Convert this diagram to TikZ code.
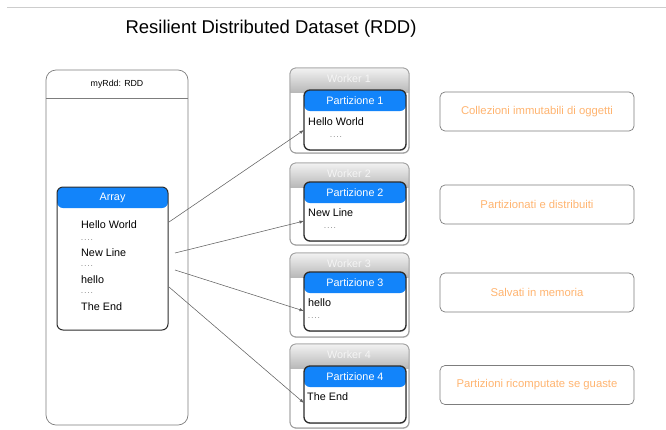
\documentclass[tikz,border=0pt]{standalone}
\usepackage{fontspec}
\setmainfont{Liberation Sans}
\usetikzlibrary{arrows.meta,shadows}

\definecolor{hdrblue}{RGB}{18,132,250}
\definecolor{boxline}{RGB}{125,125,125}
\definecolor{darkline}{RGB}{45,45,45}
\definecolor{softorange}{RGB}{255,180,112}
\definecolor{rulegray}{RGB}{205,205,205}
\definecolor{wkline}{RGB}{160,160,160}
\definecolor{wktop}{RGB}{242,242,242}
\definecolor{wkbottom}{RGB}{185,185,185}

\newcommand{\smalldots}{.\kern1.3pt.\kern1.3pt.\kern1.3pt.}

% gradient header band inside a worker node
\newcommand{\workerheader}[1]{%
  \begin{scope}
    \clip[rounded corners=6pt] (#1.north west) rectangle (#1.south east);
    \shade[top color=wktop, bottom color=wkbottom] (#1.north west) rectangle ([yshift=-24pt]#1.north east);
  \end{scope}
  \draw[wkline, line width=0.8pt, rounded corners=6pt] (#1.north west) rectangle (#1.south east);
}

\tikzset{
  rddbox/.style={draw=boxline, line width=0.7pt, rounded corners=10pt, outer sep=0pt, inner sep=0pt},
  listbox/.style={draw=darkline, line width=1pt, rounded corners=6pt, fill=white, outer sep=0pt, inner sep=0pt,
    path picture={\fill[hdrblue] (path picture bounding box.north west) rectangle ([yshift=-21pt]path picture bounding box.north east);}},
  workerbox/.style={draw=wkline, line width=0.8pt, rounded corners=6pt, fill=white, outer sep=0pt, inner sep=0pt,
    minimum width=119pt, anchor=north west,
    drop shadow={shadow xshift=0.6pt, shadow yshift=-0.8pt, opacity=0.35}},
  partbox/.style={listbox, line width=1.3pt, minimum width=102pt, anchor=north west,
    drop shadow={shadow xshift=0.6pt, shadow yshift=-0.9pt, opacity=0.4}},
  notebox/.style={draw=boxline, line width=0.7pt, rounded corners=5pt, minimum width=194pt, minimum height=39pt,
    text=softorange, font=\fontsize{11.3}{13}\selectfont},
  hdrtext/.style={text=white, font=\fontsize{10.8}{13}\selectfont},
  wktext/.style={text=white!96!black, font=\fontsize{10.8}{13}\selectfont},
  itemtext/.style={anchor=west, inner sep=0pt, font=\fontsize{10.8}{13}\selectfont},
  dotstext/.style={anchor=west, inner sep=0pt, font=\fontsize{7}{8}\selectfont, text=black!70},
  link/.style={draw=black!62, line width=0.55pt, -{Latex[length=4.5pt,width=3.2pt]}}
}

\begin{document}
\begin{tikzpicture}[x=1pt,y=-1pt]
\useasboundingbox (0,0) rectangle (666,429);

% rule and title
\coordinate (ruleL) at (7,7);
\coordinate (ruleR) at (666,7);
\draw[rulegray, line width=0.9pt] (ruleL) -- (ruleR);
\node[font=\fontsize{18.5}{22}\selectfont] (title) at (271,29) {Resilient Distributed Dataset (RDD)};

% the RDD object
\node[rddbox, anchor=north west, minimum width=142pt, minimum height=355pt] (rdd) at (46,70) {};
\draw[boxline, line width=0.7pt] (rdd.west |- 0,98) -- (rdd.east |- 0,98);
\node[font=\fontsize{8.8}{10}\selectfont] (rddname) at (117,84.5) {myRdd: RDD};

% the array it holds
\node[listbox, anchor=north west, minimum width=111pt, minimum height=143pt] (arr) at (57,187) {};
\node[hdrtext] (arrhdr) at (112.5,197.5) {Array};
\node[itemtext] (a1) at (81,225) {Hello World};
\node[dotstext] (a1d) at (81,240) {\smalldots};
\node[itemtext] (a2) at (81,253) {New Line};
\node[dotstext] (a2d) at (81,266) {\smalldots};
\node[itemtext] (a3) at (81,280) {hello};
\node[dotstext] (a3d) at (81,293) {\smalldots};
\node[itemtext] (a4) at (81,307) {The End};

% workers and their partitions
\node[workerbox, minimum height=85pt] (w1) at (290,68) {};
\workerheader{w1}
\node[wktext] (w1t) at (349,79) {Worker 1};
\node[partbox, minimum height=60pt] (p1) at (304,90) {};
\node[hdrtext] (p1t) at (355,100.5) {Partizione 1};
\node[itemtext] (p1a) at (308,122) {Hello World};
\node[dotstext] (p1b) at (330,137) {\smalldots};

\node[workerbox, minimum height=82pt] (w2) at (290,163) {};
\workerheader{w2}
\node[wktext] (w2t) at (349,174) {Worker 2};
\node[partbox, minimum height=59pt] (p2) at (304,182) {};
\node[hdrtext] (p2t) at (355,192.5) {Partizione 2};
\node[itemtext] (p2a) at (308,213) {New Line};
\node[dotstext] (p2b) at (324,228) {\smalldots};

\node[workerbox, minimum height=84pt] (w3) at (290,253) {};
\workerheader{w3}
\node[wktext] (w3t) at (349,264) {Worker 3};
\node[partbox, minimum height=59pt] (p3) at (304,272) {};
\node[hdrtext] (p3t) at (355,282.5) {Partizione 3};
\node[itemtext] (p3a) at (308,303) {hello};
\node[dotstext] (p3b) at (308,318) {\smalldots};

\node[workerbox, minimum height=84pt] (w4) at (290,344) {};
\workerheader{w4}
\node[wktext] (w4t) at (349,355) {Worker 4};
\node[partbox, minimum height=57pt] (p4) at (304,366) {};
\node[hdrtext] (p4t) at (355,376.5) {Partizione 4};
\node[itemtext] (p4a) at (307,397) {The End};

% links from the array elements to their partitions
\coordinate (s1) at (169,222);
\coordinate (s2) at (175,253);
\coordinate (s3) at (175,270);
\coordinate (s4) at (169,287);
\coordinate (t1) at (304,130);
\coordinate (t2) at (304,221);
\coordinate (t3) at (304,311);
\coordinate (t4) at (304,403);
\draw[link] (s1) -- (t1);
\draw[link] (s2) -- (t2);
\draw[link] (s3) -- (t3);
\draw[link] (s4) -- (t4);

% properties
\node[notebox] (n1) at (537,111.5) {Collezioni immutabili di oggetti};
\node[notebox] (n2) at (537,204.5) {Partizionati e distribuiti};
\node[notebox] (n3) at (537,292.5) {Salvati in memoria};
\node[notebox] (n4) at (537,385) {Partizioni ricomputate se guaste};
\end{tikzpicture}
\end{document}
